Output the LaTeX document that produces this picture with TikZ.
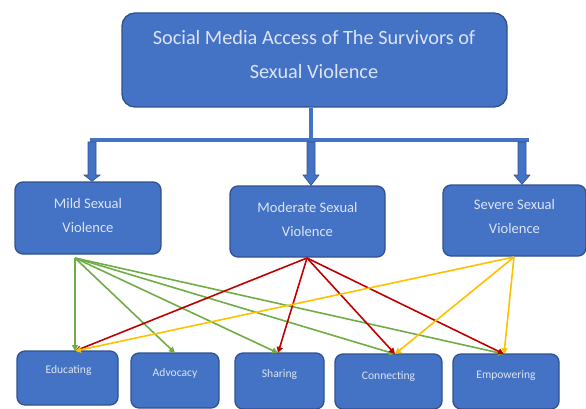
\documentclass[tikz,border=0pt]{standalone}
\usepackage{fontspec}
\setmainfont{Carlito}
\usetikzlibrary{arrows.meta}
\definecolor{boxfill}{HTML}{4472C4}
\definecolor{boxline}{HTML}{2F528F}
\definecolor{boxtext}{HTML}{DCE4F4}
\definecolor{lgreen}{HTML}{70AD47}
\definecolor{lred}{HTML}{C00000}
\definecolor{lyellow}{HTML}{FFC000}
\begin{document}
\begin{tikzpicture}[x=1pt,y=-1pt,
  box/.style={draw=boxline,fill=boxfill,line width=1.3pt,rounded corners=8pt,
    text=boxtext,align=center,inner sep=0pt},
  toptext/.style={font=\fontsize{20.3}{34}\selectfont},
  midtext/.style={font=\fontsize{14.6}{24}\selectfont},
  lowtext/.style={font=\fontsize{11.6}{12}\selectfont},
  link/.style={line width=1.6pt,-{Triangle[length=6pt,width=6pt]}},
  feed/.style={fill=boxfill,draw=boxline,line width=0.6pt},
  bar/.style={draw=boxfill,line width=4pt}]
\useasboundingbox (0,0) rectangle (586,409);

% main box
\node[box,rounded corners=13pt,minimum width=385pt,minimum height=94pt] (top) at (314.5,60) {};
\node[toptext,text=boxtext,align=center] (toplbl) at (314,55) {Social Media Access of The Survivors of\\Sexual Violence};

% level boxes
\node[box,minimum width=146pt,minimum height=72pt] (mild) at (88,218) {};
\node[midtext,text=boxtext,align=center] at (88,215) {Mild Sexual\\Violence};
\node[box,minimum width=155pt,minimum height=71pt] (mod) at (307.5,221.5) {};
\node[midtext,text=boxtext,align=center] at (307.5,219) {Moderate Sexual\\Violence};
\node[box,minimum width=143pt,minimum height=71pt] (sev) at (514.5,220.5) {};
\node[midtext,text=boxtext,align=center] at (514.5,216) {Severe Sexual\\Violence};

% outcome boxes
\node[box,minimum width=101pt,minimum height=54pt] (edu) at (67.5,378) {};
\node[lowtext,text=boxtext] at (68.5,370) {Educating};
\node[box,minimum width=88pt,minimum height=55pt] (adv) at (175,380.5) {};
\node[lowtext,text=boxtext] at (175,373) {Advocacy};
\node[box,minimum width=89pt,minimum height=56pt] (sha) at (279.5,381) {};
\node[lowtext,text=boxtext] at (279.5,374) {Sharing};
\node[box,minimum width=107pt,minimum height=55pt] (con) at (388.5,381.5) {};
\node[lowtext,text=boxtext] at (388.5,376) {Connecting};
\node[box,minimum width=106pt,minimum height=55pt] (emp) at (506,381.5) {};
\node[lowtext,text=boxtext] at (506,376) {Empowering};

% branching bar under the main box
\coordinate (stem) at (311,140);
\coordinate (barL) at (92,140);
\coordinate (barR) at (527,140);
\draw[bar] (top.south -| stem) -- (stem);
\draw[bar] ([xshift=-2pt]barL) -- ([xshift=2pt]barR);

% block arrows down to the level boxes
\foreach \x/\t in {92/mild,311/mod,522/sev}{
  \draw[feed] (\x-4,142) -- (\x+4,142) -- (\x+4,175) -- (\x+8,175)
    -- (\x,0 |- \t.north) -- (\x-8,175) -- (\x-4,175) -- cycle;
}

% ports on the boxes
\coordinate (mildOut) at (75,258);
\coordinate (modOut) at (307,258);
\coordinate (sevOut) at (514,257);
\coordinate (eduIn) at (75,351);
\coordinate (advIn) at (175,353);
\coordinate (shaIn) at (278,353);
\coordinate (conIn) at (395,354);
\coordinate (empIn) at (504,354);

% links
\foreach \t in {eduIn,advIn,shaIn,conIn,empIn}
  \draw[link,lgreen] (mildOut) -- (\t);
\foreach \t in {eduIn,shaIn,conIn,empIn}
  \draw[link,lred] (modOut) -- (\t);
\foreach \t in {eduIn,conIn,empIn}
  \draw[link,lyellow] (sevOut) -- (\t);
\end{tikzpicture}
\end{document}
